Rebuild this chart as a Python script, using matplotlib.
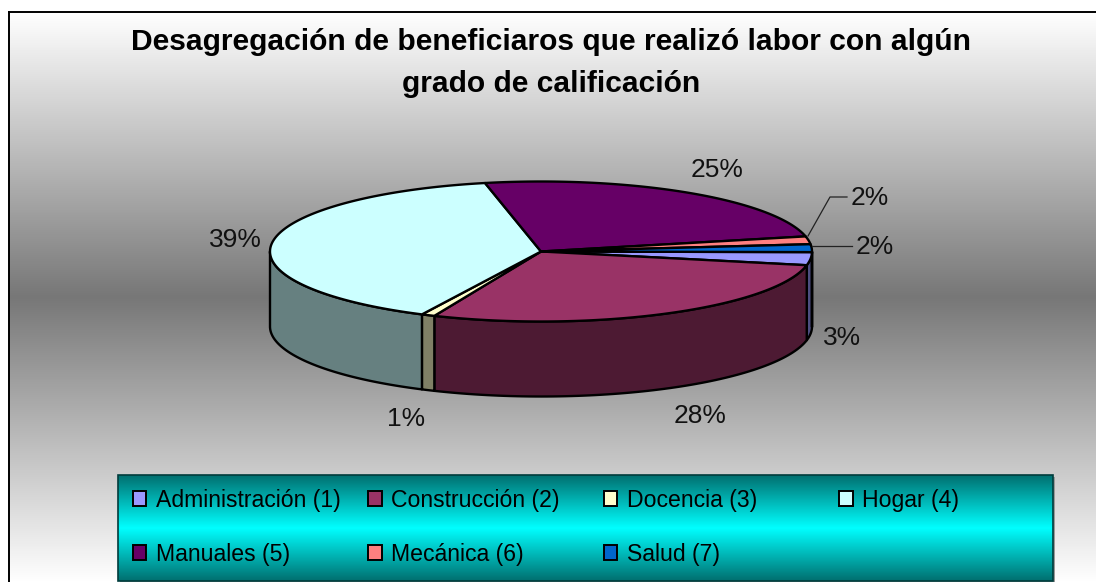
import numpy as np
import matplotlib
matplotlib.use("Agg")
import matplotlib.pyplot as plt
from matplotlib.patches import Polygon, Patch, Rectangle
from matplotlib.colors import LinearSegmentedColormap, to_rgb

plt.rcParams['font.family'] = ['Liberation Sans', 'DejaVu Sans']

# ---- data ----
title = "Desagregación de beneficiaros que realizó labor con algún\ngrado de calificación"
categories = ["Administración (1)", "Construcción (2)", "Docencia (3)", "Hogar (4)",
              "Manuales (5)", "Mecánica (6)", "Salud (7)"]
values = [3.0, 28.3, 0.8, 39.45, 24.85, 1.8, 1.8]
colors = ["#9999FF", "#993366", "#FFFFCC", "#CCFFFF", "#660066", "#FF8080", "#0066CC"]

# ---- geometry (pixels of the reference) ----
W, H = 1096, 582
cx, cy, rx, ry, depth = 541, 251.5, 271, 70, 75
start_deg = 0.5
label_pos = [(842, 338), (700, 416), (406, 419), (235, 240), (717, 170), (875, 247), (870, 198)]

fig = plt.figure(figsize=(W / 100, H / 100), dpi=100, facecolor="white")
ax = fig.add_axes([0, 0, 1, 1])
ax.set_axis_off()

# background gradient
bg_cmap = LinearSegmentedColormap.from_list("bg", ["#FFFFFF", "#777777", "#FFFFFF"])
ax.imshow(np.linspace(0, 1, 256).reshape(-1, 1), cmap=bg_cmap, aspect="auto",
          extent=(9, W + 2, 582, 12), zorder=0)
ax.plot([9, 9], [582, 12], color="black", lw=1.4, zorder=1, solid_capstyle="projecting")
ax.plot([9, W + 2], [12, 12], color="black", lw=1.4, zorder=1, solid_capstyle="projecting")

def ell(t):
    t = np.radians(t)
    return cx + rx * np.cos(t), cy + ry * np.sin(t)

fractions = np.array(values) / sum(values)
edges = start_deg + 360 * np.concatenate([[0], np.cumsum(fractions)])
LW = 1.7

# walls (visible only on the front half of the ellipse)
for i, c in enumerate(colors):
    for lo, hi in [(edges[i], edges[i + 1]), (edges[i] - 360, edges[i + 1] - 360)]:
        a, b = max(lo, 0), min(hi, 180)
        if b <= a:
            continue
        x, y = ell(np.linspace(a, b, 80))
        pts = np.r_[np.c_[x, y], np.c_[x[::-1], y[::-1] + depth]]
        dark = tuple(v * 0.5 for v in to_rgb(c))
        ax.add_patch(Polygon(pts, closed=True, fc=dark, ec="black", lw=LW, zorder=3, joinstyle="round"))

# top faces
for i, c in enumerate(colors):
    x, y = ell(np.linspace(edges[i], edges[i + 1], 160))
    pts = np.r_[[[cx, cy]], np.c_[x, y]]
    ax.add_patch(Polygon(pts, closed=True, fc=c, ec="black", lw=LW, zorder=4, joinstyle="round"))

# percentage labels
for v, (lx, ly) in zip(fractions, label_pos):
    ax.text(lx, ly, f"{v * 100:.0f}%", ha="center", va="center", fontsize=19, color="#111111", zorder=6)

# leader lines
ax.plot([808, 830, 847], [236, 197, 197], color="#222222", lw=0.9, zorder=5)
ax.plot([812, 852], [246, 246], color="#222222", lw=0.9, zorder=5)

# title
ax.text(551, 63, title, ha="center", va="center", fontsize=21.6, fontweight="bold",
        color="black", linespacing=1.6, zorder=6)

# legend panel
lx0, lx1, ly0, ly1 = 118, 1053, 475, 581
ax.add_patch(Rectangle((lx0 + 2, ly0 + 2), lx1 - lx0, ly1 - ly0, fc="#999999", ec="none", zorder=1.5))
lg_cmap = LinearSegmentedColormap.from_list("lg", ["#006F6F", "#00FFFF", "#006F6F"])
ax.imshow(np.linspace(0, 1, 256).reshape(-1, 1), cmap=lg_cmap, aspect="auto",
          extent=(lx0, lx1, ly1, ly0), zorder=2)
ax.add_patch(Rectangle((lx0, ly0), lx1 - lx0, ly1 - ly0, fc="none", ec="#003C3C", lw=1.2, zorder=2.1))

ax.set_xlim(0, W)
ax.set_ylim(H, 0)

# legend is filled column by column, so list entries so that rows read as in the reference
n_rows, n_cols = 2, 4
order = [0, 4, 1, 5, 2, 6, 3]
handles = [Patch(fc=colors[i], ec="black", lw=1.4) for i in order]
labels = [categories[i] for i in order]
leg = ax.legend(handles, labels, ncols=n_cols, frameon=False, loc="upper left",
                bbox_to_anchor=(128, 484), bbox_transform=ax.transData,
                fontsize=16.6, handlelength=0.6, handleheight=0.6, handletextpad=0.4,
                columnspacing=1.2, labelspacing=1.34, borderpad=0.2, borderaxespad=0)
leg.set_zorder(7)
leg._legend_handle_box.mode = "equal"

fig.savefig("out.png", dpi=100, facecolor="white")
